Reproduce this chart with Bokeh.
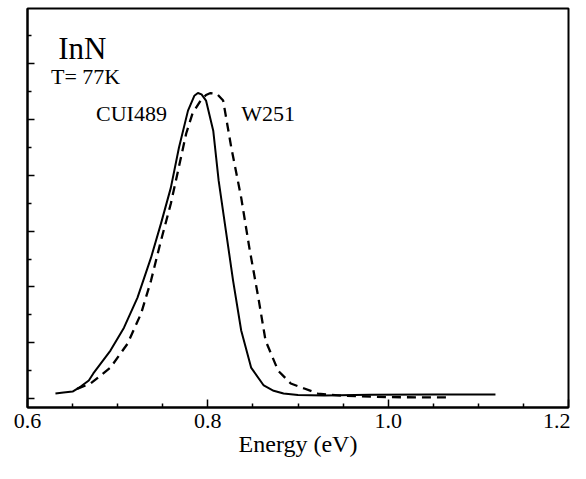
from bokeh.plotting import figure
from bokeh.models import FixedTicker, Label, Range1d, CustomJSTickFormatter
from bokeh.embed import file_html
from bokeh.resources import INLINE

# CUI489 (solid)
solid_E = [0.631, 0.640, 0.650, 0.659, 0.668, 0.673, 0.692, 0.707, 0.722, 0.737,
           0.748, 0.759, 0.768, 0.778, 0.785, 0.789, 0.793, 0.798, 0.806, 0.812,
           0.820, 0.828, 0.837, 0.848, 0.862, 0.873, 0.884, 0.900, 0.929, 0.980,
           1.050, 1.119]
solid_I = [0.18, 0.22, 0.25, 0.43, 0.65, 0.90, 1.72, 2.54, 3.62, 5.05,
           6.27, 7.56, 9.00, 10.32, 10.85, 10.95, 10.90, 10.68, 9.60, 7.81,
           6.02, 4.23, 2.44, 1.11, 0.47, 0.28, 0.18, 0.13, 0.11, 0.14,
           0.15, 0.15]

# W251 (dashed)
dash_E = [0.655, 0.670, 0.692, 0.711, 0.726, 0.737, 0.748, 0.759, 0.767, 0.776,
          0.783, 0.792, 0.798, 0.803, 0.810, 0.817, 0.826, 0.837, 0.846, 0.856,
          0.864, 0.878, 0.892, 0.907, 0.922, 0.950, 1.000, 1.067]
dash_I = [0.35, 0.54, 1.11, 1.97, 3.05, 4.23, 5.66, 6.99, 8.17, 9.50,
          10.22, 10.68, 10.88, 10.95, 10.92, 10.68, 9.00, 7.20, 5.41, 3.62,
          2.08, 1.00, 0.54, 0.36, 0.18, 0.10, 0.05, 0.04]

x_major = [0.6, 0.8, 1.0, 1.2]
x_minor = [0.65, 0.7, 0.75, 0.85, 0.9, 0.95, 1.05, 1.1, 1.15]
x_labels = {0.6: "0.6", 0.8: "0.8", 1.0: "1.0", 1.2: "1.2"}
y_major = [0, 2, 4, 6, 8, 10, 12]
y_minor = [1, 3, 5, 7, 9, 11, 13]
x_title = "Energy (eV)"

FONT = "Liberation Serif"

p = figure(width=570, height=463, title=None,
           x_range=Range1d(0.6, 1.2), y_range=Range1d(-0.32, 13.98),
           output_backend="svg", toolbar_location=None,
           min_border_left=27, min_border_right=2, min_border_top=8,
           min_border_bottom=56)

p.background_fill_color = "white"
p.border_fill_color = "white"
p.outline_line_color = "black"
p.outline_line_width = 2
p.xgrid.visible = False
p.ygrid.visible = False

xa = p.xaxis[0]
xa.ticker = FixedTicker(ticks=x_major, minor_ticks=x_minor)
xa.major_label_overrides = x_labels
xa.major_tick_in = 8
xa.major_tick_out = 0
xa.minor_tick_in = 4
xa.minor_tick_out = 0
xa.axis_line_width = 2
xa.major_tick_line_width = 1.5
xa.minor_tick_line_width = 1.5
xa.major_label_text_font = FONT
xa.major_label_text_font_size = "22px"
xa.major_label_text_color = "black"
xa.major_label_standoff = 6
xa.axis_label = x_title
xa.axis_label_text_font = FONT
xa.axis_label_text_font_size = "24px"
xa.axis_label_text_font_style = "normal"
xa.axis_label_text_color = "black"
xa.axis_label_standoff = 0

ya = p.yaxis[0]
ya.ticker = FixedTicker(ticks=y_major, minor_ticks=y_minor)
ya.formatter = CustomJSTickFormatter(code="return ''")
ya.major_tick_in = 7
ya.major_tick_out = 0
ya.minor_tick_in = 4
ya.minor_tick_out = 0
ya.axis_line_width = 2
ya.major_tick_line_width = 1.5
ya.minor_tick_line_width = 1.5
ya.major_label_standoff = 0

p.line(solid_E, solid_I, line_color="black", line_width=2)
p.line(dash_E, dash_I, line_color="black", line_width=2.3, line_dash="9 6")

def lab(x, y, t, size):
    p.add_layout(Label(x=x, y=y, text=t, text_font=FONT, text_font_size=size,
                       text_color="black", text_align="left",
                       text_baseline="alphabetic"))

lab(0.634, 12.54, "InN", "31px")
lab(0.626, 11.55, "T= 77K", "22px")
lab(0.676, 10.2, "CUI489", "22px")
lab(0.837, 10.2, "W251", "22px")

open("out.html", "w").write(file_html(p, INLINE))
